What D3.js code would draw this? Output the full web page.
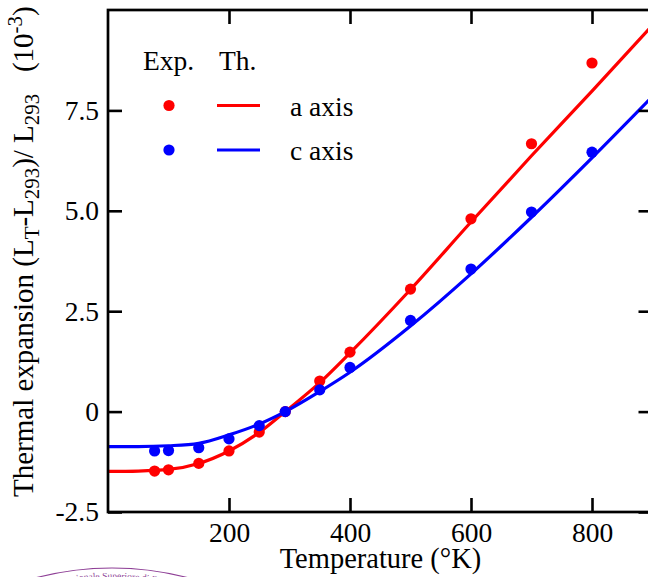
<!DOCTYPE html>
<html>
<head>
<meta charset="utf-8">
<script src="https://cdn.jsdelivr.net/npm/d3@7"></script>
<style>
  html, body { margin: 0; padding: 0; background: #fff; }
  svg { display: block; }
  text { font-family: "Liberation Serif", "Times New Roman", serif; fill: #000; }
</style>
</head>
<body>
<svg id="chart" width="648" height="577"></svg>
<script>
// Measured thermal expansion (10^-3) vs temperature (K)
const expTemps  = [77, 100, 150, 200, 250, 293, 350, 400, 500, 600, 700, 800];
const expA      = [-1.48, -1.45, -1.29, -0.98, -0.51, 0, 0.76, 1.48, 3.05, 4.80, 6.67, 8.68];
const expC      = [-0.98, -0.97, -0.90, -0.68, -0.35, 0, 0.54, 1.10, 2.27, 3.55, 4.97, 6.46];

// Theoretical curves, sampled
const thTemps   = [0, 50, 100, 150, 200, 250, 293, 350, 400, 500, 600, 700, 800, 900];
const thA       = [-1.49, -1.48, -1.44, -1.29, -0.98, -0.52, 0, 0.72, 1.46, 3.04, 4.72, 6.37, 7.98, 9.62];
const thC       = [-0.87, -0.87, -0.85, -0.79, -0.58, -0.31, 0, 0.50, 0.98, 2.13, 3.43, 4.84, 6.32, 7.85];

const xTicks = [200, 400, 600, 800];
const yTicks = [-2.5, 0, 2.5, 5.0, 7.5];
const yTickLabels = ["-2.5", "0", "2.5", "5.0", "7.5"];

const seriesNames = ["a axis", "c axis"];
const seriesColors = ["#ff0000", "#0000ff"];

const svg = d3.select("#chart");
const pLeft = 108, pRight = 652.5, pTop = 10, pBottom = 512;

const x = d3.scaleLinear().domain([0, 900]).range([pLeft, pRight]);
const y = d3.scaleLinear().domain([-2.5, 10]).range([pBottom, pTop]);

const FS = 27.5;

// clip region for the plot
svg.append("defs").append("clipPath").attr("id", "plotclip")
  .append("rect").attr("x", pLeft).attr("y", pTop).attr("width", pRight - pLeft).attr("height", pBottom - pTop);

const plot = svg.append("g").attr("clip-path", "url(#plotclip)");

const line = d3.line()
  .x((d, i) => x(thTemps[i]))
  .y(d => y(d))
  .curve(d3.curveMonotoneX);

[thA, thC].forEach((s, k) => {
  plot.append("path")
    .attr("d", line(s))
    .attr("fill", "none")
    .attr("stroke", seriesColors[k])
    .attr("stroke-width", 3.2);
});

[expA, expC].forEach((s, k) => {
  plot.selectAll(null).data(s).enter().append("circle")
    .attr("cx", (d, i) => x(expTemps[i]))
    .attr("cy", d => y(d))
    .attr("r", 5.6)
    .attr("fill", seriesColors[k]);
});

// axes: ticks on all four sides, pointing inward
const tickLen = 14;
const axisB = d3.axisBottom(x).tickValues(xTicks).tickSizeInner(-tickLen).tickSizeOuter(0).tickPadding(10.5).tickFormat(d3.format("d"));
const axisT = d3.axisTop(x).tickValues(xTicks).tickSizeInner(-tickLen).tickSizeOuter(0).tickFormat("");
const axisL = d3.axisLeft(y).tickValues(yTicks).tickSizeInner(-tickLen).tickSizeOuter(0).tickPadding(9)
  .tickFormat((d, i) => yTickLabels[i]);
const axisR = d3.axisRight(y).tickValues(yTicks).tickSizeInner(-tickLen).tickSizeOuter(0).tickFormat("");

function styleAxis(g) {
  g.select(".domain").remove();
  g.selectAll(".tick line").attr("stroke", "#000").attr("stroke-width", 2.6);
  g.selectAll(".tick text").style("font-family", '"Liberation Serif", serif').style("font-size", FS + "px").attr("fill", "#000");
}

svg.append("g").attr("transform", `translate(0,${pBottom})`).call(axisB).call(styleAxis);
svg.append("g").attr("transform", `translate(0,${pTop})`).call(axisT).call(styleAxis);
svg.append("g").attr("transform", `translate(${pLeft},0)`).call(axisL).call(styleAxis);
svg.append("g").attr("transform", `translate(${pRight},0)`).call(axisR).call(styleAxis);

// frame
svg.append("rect")
  .attr("x", pLeft).attr("y", pTop).attr("width", pRight - pLeft).attr("height", pBottom - pTop)
  .attr("fill", "none").attr("stroke", "#000").attr("stroke-width", 2.7);

// x-axis title
const xt = svg.append("text")
  .attr("x", 380.5).attr("y", 568)
  .attr("text-anchor", "middle")
  .style("font-size", "28.5px");
xt.append("tspan").text("Temperature (");
xt.append("tspan").text("°");
xt.append("tspan").text("K)");

// y-axis title with sub/superscripts
const YFS = 29;
const yt = svg.append("text")
  .attr("transform", "translate(33,497) rotate(-90)")
  .attr("text-anchor", "start")
  .style("font-size", YFS + "px")
  .style("white-space", "pre");
const subFS = YFS * 0.72;
yt.append("tspan").text("Thermal expansion (L");
yt.append("tspan").attr("dy", 6).style("font-size", subFS + "px").text("T");
yt.append("tspan").attr("dy", -6).text("-L");
yt.append("tspan").attr("dy", 6).style("font-size", subFS + "px").text("293");
yt.append("tspan").attr("dy", -6).text(")/ L");
yt.append("tspan").attr("dy", 6).style("font-size", subFS + "px").text("293");
yt.append("tspan").attr("dy", -6).text("   (10");
yt.append("tspan").attr("dy", -11).style("font-size", subFS + "px").text("-3");
yt.append("tspan").attr("dy", 11).text(")");

// legend
const legend = svg.append("g");
legend.append("text").attr("x", 143).attr("y", 70).style("font-size", FS + "px").text("Exp.");
legend.append("text").attr("x", 219).attr("y", 70).style("font-size", FS + "px").text("Th.");
seriesNames.forEach((name, k) => {
  const ly = 105.5 + k * 44.5;
  legend.append("circle").attr("cx", 169).attr("cy", ly).attr("r", 5.6).attr("fill", seriesColors[k]);
  legend.append("line").attr("x1", 217).attr("x2", 260).attr("y1", ly).attr("y2", ly)
    .attr("stroke", seriesColors[k]).attr("stroke-width", 3.2);
  legend.append("text").attr("x", 290).attr("y", ly + 10).style("font-size", FS + "px").text(name);
});

// institutional seal in the lower-left corner
const seal = svg.append("g");
const sealColor = "#8e3f96";
const scx = 112, scy = 868, r1 = 300, r2 = 289;
seal.append("circle").attr("cx", scx).attr("cy", scy).attr("r", r1)
  .attr("fill", "none").attr("stroke", sealColor).attr("stroke-width", 1.2);
const arc = d3.path();
arc.arc(scx, scy, r2, -Math.PI / 2 - 0.4, -Math.PI / 2 + 0.4);
seal.append("path").attr("id", "sealarc").attr("d", arc.toString()).attr("fill", "none");
seal.append("text").style("font-size", "9.5px").style("fill", sealColor)
  .append("textPath").attr("href", "#sealarc").attr("startOffset", "50%").attr("text-anchor", "middle")
  .text("Scuola Internazionale Superiore di Studi Avanzati");
</script>
</body>
</html>
